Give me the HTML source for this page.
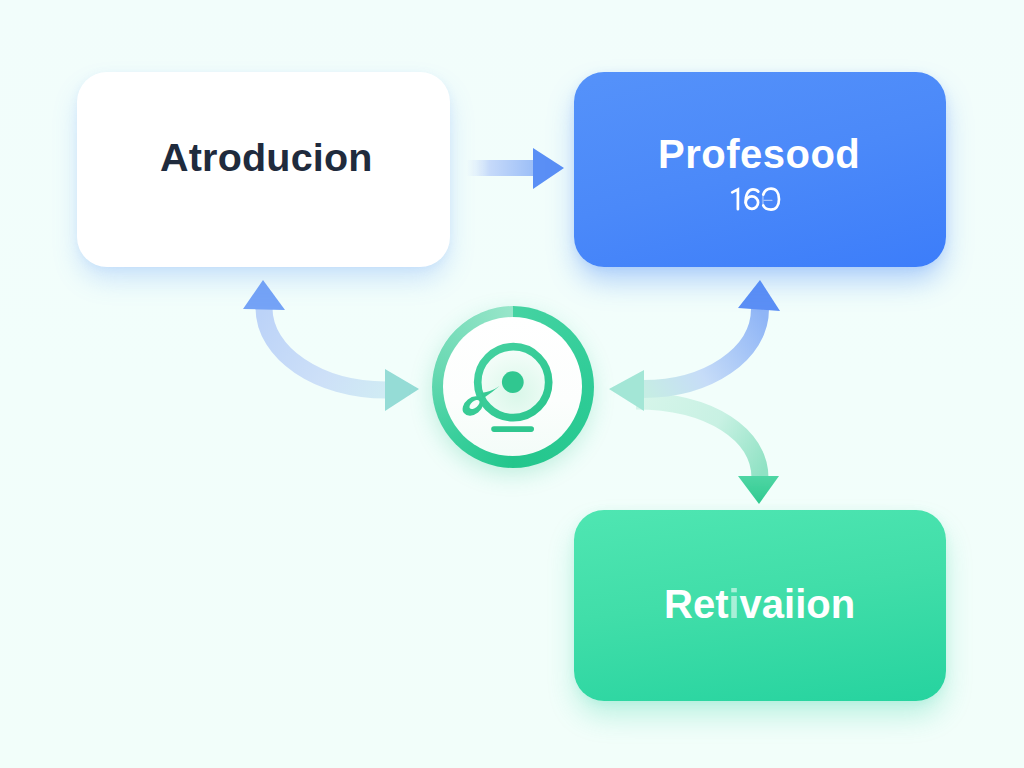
<!DOCTYPE html>
<html><head><meta charset="utf-8">
<style>
html,body{margin:0;padding:0;}
body{width:1024px;height:768px;overflow:hidden;position:relative;
  background:#f2fefb;font-family:"Liberation Sans",sans-serif;}
.bg{position:absolute;left:0;top:0;width:1024px;height:768px;
  background:linear-gradient(180deg,#f2fdfb 0%,#f2fefb 50%,#f2fefa 100%);}
.box{position:absolute;border-radius:30px;}
#b1{left:77px;top:72px;width:373px;height:195px;background:#ffffff;
  box-shadow:0 14px 26px -2px rgba(90,150,250,0.26), 0 2px 8px rgba(120,170,250,0.10);}
#b2{left:574px;top:72px;width:372px;height:195px;
  background:linear-gradient(165deg,#5592fa 0%,#4b89f9 50%,#3c7dfa 100%);
  box-shadow:0 16px 28px -2px rgba(60,130,250,0.36), 0 2px 10px rgba(80,140,250,0.12);}
#b3{left:574px;top:510px;width:372px;height:191px;
  background:linear-gradient(172deg,#4fe6b2 0%,#41dea9 45%,#26d39f 100%);
  box-shadow:0 16px 28px -2px rgba(40,210,160,0.28), 0 2px 10px rgba(60,210,160,0.10);}
.t{position:absolute;white-space:nowrap;font-weight:bold;}
#t1{left:160px;top:135px;font-size:39.5px;letter-spacing:0.2px;color:#1f2b3d;}
#t2{left:658px;top:132px;font-size:40px;letter-spacing:0.5px;color:#ffffff;}
#t3{left:729px;top:182px;font-size:32px;color:#ffffff;font-weight:normal;}
#t4{left:664px;top:582px;font-size:40px;color:#ffffff;}
#ringsh{position:absolute;left:432px;top:306px;width:160px;height:160px;border-radius:50%;
  box-shadow:0 8px 22px rgba(40,190,140,0.25);}
#ring{position:absolute;left:431.5px;top:305.5px;width:162px;height:162px;border-radius:50%;
  background:conic-gradient(from 0deg,#45d3a2 0deg,#2fcc97 90deg,#23c68c 180deg,#3acf9c 230deg,#6ad9b3 285deg,#8fe3c5 345deg,#98e6ca 360deg);}
#ringin{position:absolute;left:443px;top:317px;width:139px;height:139px;border-radius:50%;
  background:linear-gradient(180deg,#ffffff 0%,#fcfefd 60%,#f3fcf8 100%);}
svg{position:absolute;left:0;top:0;}
</style></head>
<body>
<div class="bg"></div>
<svg width="1024" height="768" viewBox="0 0 1024 768">
  <defs>
    <filter id="soft" x="-10%" y="-10%" width="120%" height="120%"><feGaussianBlur stdDeviation="0.6"/></filter>
    <linearGradient id="gA" x1="466" y1="0" x2="533" y2="0" gradientUnits="userSpaceOnUse">
      <stop offset="0" stop-color="#d6e6fb" stop-opacity="0"/>
      <stop offset="0.35" stop-color="#c6dafa"/>
      <stop offset="1" stop-color="#9dbff7"/>
    </linearGradient>
    <linearGradient id="gL" x1="264" y1="310" x2="385" y2="390" gradientUnits="userSpaceOnUse">
      <stop offset="0" stop-color="#bcd3f8"/>
      <stop offset="0.6" stop-color="#cde0f8"/>
      <stop offset="1" stop-color="#d0ebf4"/>
    </linearGradient>
    <linearGradient id="gR" x1="760" y1="311" x2="644" y2="389" gradientUnits="userSpaceOnUse">
      <stop offset="0" stop-color="#8fb5f6"/>
      <stop offset="0.6" stop-color="#c6dcf8"/>
      <stop offset="1" stop-color="#c6ede4"/>
    </linearGradient>
    <linearGradient id="gD" x1="640" y1="401" x2="760" y2="476" gradientUnits="userSpaceOnUse">
      <stop offset="0" stop-color="#d6f5ea"/>
      <stop offset="0.55" stop-color="#c8f1e3"/>
      <stop offset="1" stop-color="#90e2c4"/>
    </linearGradient>
    <linearGradient id="gDh" x1="0" y1="476" x2="0" y2="504" gradientUnits="userSpaceOnUse">
      <stop offset="0" stop-color="#4fd6a4"/>
      <stop offset="1" stop-color="#2fca90"/>
    </linearGradient>
  </defs>
  <g filter="url(#soft)">
  <!-- straight arrow -->
  <rect x="466" y="160" width="68" height="16" fill="url(#gA)"/>
  <polygon points="533,148 564,168 533,189" fill="#5a8ff5"/>
  <!-- left curved arrow -->
  <path d="M264,308 C264,353 318,390 386,390" fill="none" stroke="url(#gL)" stroke-width="17"/>
  <polygon points="263,280 243,309 285,310" fill="#74a3f6"/>
  <polygon points="385,369 419,389 385,411" fill="#95dcd6"/>
  <!-- right down arrow -->
  <path d="M636,401 C711,401 760,435 760,478" fill="none" stroke="url(#gD)" stroke-width="17"/>
  <polygon points="738,476 779,476 759,504" fill="url(#gDh)"/>
  <!-- right up arrow -->
  <path d="M760,309 C760,354 708,389 643,389" fill="none" stroke="url(#gR)" stroke-width="18"/>
  <polygon points="760,280 738,308 780,311" fill="#5b8ff5"/>
  <polygon points="609,389 644,370 644,411" fill="#a3e6d6"/>
  </g>
</svg>
<div id="ringsh"></div>
<div id="ring"></div>
<div id="ringin"></div>
<svg width="1024" height="768" viewBox="0 0 1024 768">
  <defs>
    <radialGradient id="iconFill" cx="0.55" cy="0.65" r="0.6">
      <stop offset="0" stop-color="#d9f7e9"/>
      <stop offset="1" stop-color="#f4fdf9"/>
    </radialGradient>
    <linearGradient id="icg" x1="470" y1="340" x2="555" y2="430" gradientUnits="userSpaceOnUse">
      <stop offset="0" stop-color="#48d3a3"/>
      <stop offset="1" stop-color="#27c48b"/>
    </linearGradient>
  </defs>
  <circle cx="513.2" cy="382.2" r="35.5" fill="url(#iconFill)" stroke="url(#icg)" stroke-width="7.7"/>
  <circle cx="512.8" cy="382.1" r="10.9" fill="#30c790"/>
  <path d="M499.5,386 Q492,391.5 481,393 L483,398.5 Q492,392.5 499.5,386 Z" fill="#36ca94"/>
  <ellipse cx="473" cy="406" rx="11.5" ry="8.3" transform="rotate(-38 473 406)" fill="#38cb95"/>
  <ellipse cx="474.5" cy="404.5" rx="6" ry="3.3" transform="rotate(-40 474.5 404.5)" fill="#f6fdfa"/>
  <rect x="491.2" y="426.3" width="42.8" height="5.6" rx="2.8" fill="#2fc78f"/>
</svg>
<div class="box" id="b1"></div>
<div class="box" id="b2"></div>
<div class="box" id="b3"></div>
<div class="t" id="t1">Atroducion</div>
<div class="t" id="t2">Profesood</div>
<svg width="1024" height="768" viewBox="0 0 1024 768" style="position:absolute;left:0;top:0">
  <g fill="none" stroke="#ffffff" stroke-width="2.7" stroke-linecap="round">
    <path d="M732.2,192.4 L737.9,189.4 L737.9,209.2"/>
    <circle cx="751.9" cy="202.6" r="6.2"/>
    <path d="M745.7,202.6 C745.5,193.8 748.6,189.4 753,189.4 C755.5,189.4 757.3,190.3 758.3,191.6"/>
    <path d="M763.3,194.5 C764.5,190.5 767.5,188.6 771,188.6 C775.8,188.6 779,192.5 779,199.2 C779,205.8 775.8,209.6 771,209.6 C767.5,209.6 764.8,208.8 763.3,205.5"/>
    <path d="M764,200.3 L772,200.3" stroke-width="1.2" stroke-opacity="0.5"/>
    <path d="M763.1,195.5 C762.8,198 762.8,202 763.1,204.8" stroke-width="2" stroke-opacity="0.35"/>
  </g>
</svg>
<div class="t" id="t4">Ret<span style="opacity:0.55">i</span>vaiion</div>
</body></html>
